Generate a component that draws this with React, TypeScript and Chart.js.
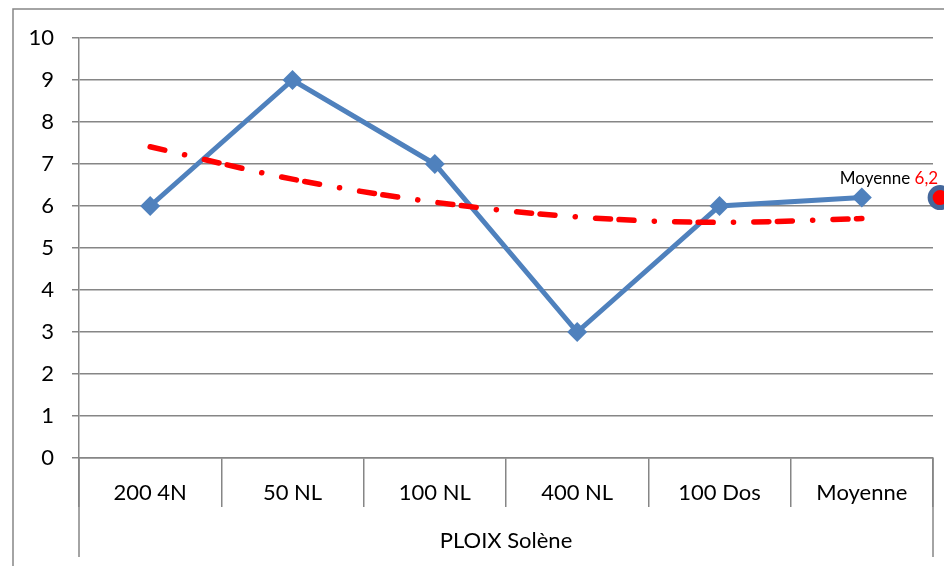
import React, { useEffect, useRef } from 'react';
import { Chart, registerables } from 'chart.js';

Chart.register(...registerables);

const categories = ['200 4N', '50 NL', '100 NL', '400 NL', '100 Dos', 'Moyenne'];
const scores = [6, 9, 7, 3, 6, 6.2];
const trendValues = [7.41, 6.64, 6.09, 5.74, 5.61, 5.7];
const averagePoint = [{ x: 6.55, y: 6.2 }];
const averageLabel = 'Moyenne';
const averageValueText = '6,2';
const groupLabel = 'PLOIX Solène';
const yMin = 0;
const yMax = 10;
const yStep = 1;

const GRID = '#868686';
const BLUE = '#4F81BD';
const FONT = 'Lato, "Open Sans", sans-serif';

const framePlugin = {
  id: 'frame',
  beforeDraw(chart: any) {
    const { ctx } = chart;
    ctx.save();
    ctx.strokeStyle = GRID;
    ctx.lineWidth = 1.5;
    ctx.beginPath();
    ctx.moveTo(13, 566);
    ctx.lineTo(13, 9);
    ctx.lineTo(944, 9);
    ctx.stroke();
    ctx.restore();
  },
  afterDraw(chart: any) {
    const { ctx, chartArea } = chart;
    ctx.save();
    ctx.strokeStyle = GRID;
    ctx.lineWidth = 1.5;
    ctx.beginPath();
    ctx.moveTo(chartArea.left, chartArea.bottom);
    ctx.lineTo(chartArea.left, 557);
    ctx.moveTo(chartArea.right, chartArea.bottom);
    ctx.lineTo(chartArea.right, 557);
    ctx.stroke();
    ctx.restore();
  },
};

const avgLabelPlugin = {
  id: 'avgLabel',
  afterDatasetsDraw(chart: any) {
    const meta = chart.getDatasetMeta(2);
    const el = meta && meta.data && meta.data[0];
    if (!el) return;
    const { ctx } = chart;
    ctx.save();
    ctx.font = `17px ${FONT}`;
    ctx.textBaseline = 'alphabetic';
    ctx.textAlign = 'left';
    const full = averageLabel + ' ' + averageValueText;
    const w = ctx.measureText(full).width;
    const wLabel = ctx.measureText(averageLabel + ' ').width;
    const xStart = el.x - 2 - w;
    const yBase = el.y - 14;
    ctx.fillStyle = '#000';
    ctx.fillText(averageLabel + ' ', xStart, yBase);
    ctx.fillStyle = '#FF0000';
    ctx.fillText(averageValueText, xStart + wLabel, yBase);
    ctx.restore();
  },
};

export default function App() {
  const ref = useRef<HTMLCanvasElement | null>(null);

  useEffect(() => {
    if (!ref.current) return;
    const chart = new Chart(ref.current, {
      type: 'line',
      data: {
        labels: categories,
        datasets: [
          {
            label: 'Tendance',
            data: trendValues,
            borderColor: '#FF0000',
            borderWidth: 5.5,
            borderDash: [15, 8.5, 15, 20.3, 0.1, 20.3],
            borderDashOffset: 23.5,
            borderCapStyle: 'round',
            cubicInterpolationMode: 'monotone',
            pointRadius: 0,
            fill: false,
            clip: false,
          } as any,
          {
            label: 'Scores',
            data: scores,
            borderColor: BLUE,
            backgroundColor: BLUE,
            borderWidth: 5,
            pointStyle: 'rectRot',
            pointRadius: 10,
            pointBorderWidth: 0,
            pointBackgroundColor: BLUE,
            tension: 0,
            fill: false,
            clip: false,
          } as any,
          {
            label: 'Moyenne',
            data: averagePoint,
            xAxisID: 'x2',
            showLine: false,
            pointStyle: 'circle',
            pointRadius: 10,
            pointBorderWidth: 5,
            pointBorderColor: '#44679B',
            pointBackgroundColor: '#FF0000',
            clip: false,
          } as any,
        ],
      },
      options: {
        animation: false,
        responsive: false,
        maintainAspectRatio: false,
        layout: { autoPadding: false, padding: { top: 38, right: 11, left: 0, bottom: 0 } },
        plugins: {
          legend: { display: false },
          tooltip: { enabled: false },
        },
        scales: {
          x: {
            type: 'category',
            offset: true,
            grid: {
              offset: true,
              drawOnChartArea: false,
              drawTicks: true,
              tickLength: 49,
              color: GRID,
              lineWidth: 1.5,
            },
            border: { display: true, color: GRID, width: 1.5 },
            ticks: {
              padding: -27,
              color: '#000',
              font: { family: FONT, size: 22 },
              maxRotation: 0,
              autoSkip: false,
            },
            title: {
              display: true,
              text: groupLabel,
              color: '#000',
              font: { family: FONT, size: 22 },
              padding: { top: 0, bottom: 12 },
            },
            afterFit: (s: any) => {
              s.height = 108;
            },
          },
          x2: {
            type: 'linear',
            display: false,
            min: 0.5,
            max: 6.5,
          },
          y: {
            min: yMin,
            max: yMax,
            ticks: {
              stepSize: yStep,
              padding: 18,
              color: '#000',
              font: { family: FONT, size: 22 },
            },
            grid: { color: GRID, lineWidth: 1.5, tickLength: 7, drawTicks: true },
            border: { display: true, color: GRID, width: 1.5 },
            afterFit: (s: any) => {
              s.width = 79;
            },
          },
        },
      } as any,
      plugins: [framePlugin, avgLabelPlugin],
    });
    return () => chart.destroy();
  }, []);

  return (
    <div style={{ position: 'absolute', left: 0, top: 0, width: 944, height: 566, background: '#fff' }}>
      <canvas ref={ref} width={944} height={566} style={{ width: 944, height: 566, display: 'block' }} />
    </div>
  );
}
